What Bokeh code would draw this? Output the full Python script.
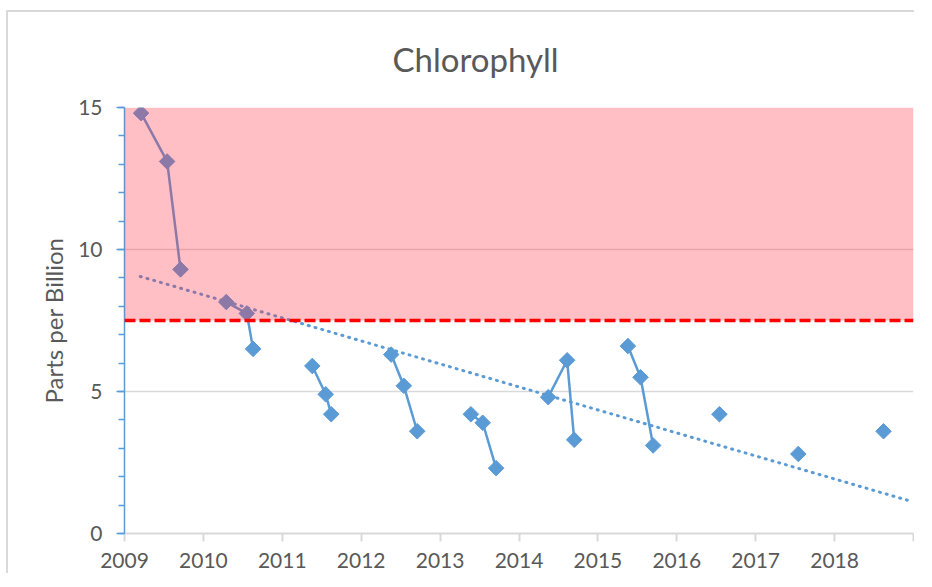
import math
from bokeh.plotting import figure
from bokeh.models import (Range1d, FixedTicker, SingleIntervalTicker, BoxAnnotation, Span)
from bokeh.embed import file_html
from bokeh.resources import INLINE

# ---- data (decimal year, parts per billion) ----
dates = [2009.21, 2009.54, 2009.71,
         2010.29, 2010.55, 2010.63,
         2011.38, 2011.55, 2011.62,
         2012.38, 2012.54, 2012.71,
         2013.39, 2013.54, 2013.71,
         2014.37, 2014.61, 2014.70,
         2015.38, 2015.54, 2015.70,
         2016.54,
         2017.54,
         2018.62]
values = [14.8, 13.1, 9.3,
          8.15, 7.75, 6.5,
          5.9, 4.9, 4.2,
          6.3, 5.2, 3.6,
          4.2, 3.9, 2.3,
          4.8, 6.1, 3.3,
          6.6, 5.5, 3.1,
          4.2,
          2.8,
          3.6]
trend_x = [2009.2, 2018.95]
trend_y = [9.05, 1.15]
threshold = 7.5
year_ticks = [2009, 2010, 2011, 2012, 2013, 2014, 2015, 2016, 2017, 2018, 2019]
year_labels = ["2009", "2010", "2011", "2012", "2013", "2014", "2015", "2016", "2017", "2018", ""]
chart_title = "Chlorophyll"

BLUE = "#5B9BD5"
GREY = "#D9D9D9"
TEXT = "#595959"
FONT = "Lato"

p = figure(width=908, height=563, output_backend="svg", toolbar_location=None,
           x_range=Range1d(2009, 2019), y_range=Range1d(0, 15),
           min_border_left=116, min_border_right=3, min_border_top=95, min_border_bottom=42,
           title=chart_title)
p.styles = {"margin-left": "6px", "margin-top": "10px",
            "border-left": "2px solid #D9D9D9", "border-top": "2px solid #D9D9D9"}
p.outline_line_color = None
p.background_fill_color = "white"

p.title.align = "left"
p.title.offset = 268
p.title.vertical_align = "top"
p.title.standoff = 53
p.title.text_font = FONT
p.title.text_font_size = "33px"
p.title.text_font_style = "normal"
p.title.text_color = TEXT

# x axis
xa = p.xaxis[0]
xa.ticker = FixedTicker(ticks=year_ticks)
xa.major_label_overrides = {t: l for t, l in zip(year_ticks, year_labels)}
xa.axis_line_color = GREY
xa.axis_line_width = 2
xa.major_tick_line_color = GREY
xa.major_tick_line_width = 2
xa.major_tick_in = 0
xa.major_tick_out = 8
xa.minor_tick_line_color = None
xa.major_label_text_font = FONT
xa.major_label_text_font_size = "21px"
xa.major_label_text_color = TEXT
xa.major_label_standoff = 11

# y axis
ya = p.yaxis[0]
ya.ticker = SingleIntervalTicker(interval=5, num_minor_ticks=5)
ya.axis_line_color = BLUE
ya.axis_line_width = 1.5
ya.major_tick_line_color = BLUE
ya.major_tick_line_width = 1.5
ya.major_tick_in = 0
ya.major_tick_out = 8
ya.minor_tick_line_color = BLUE
ya.minor_tick_line_width = 1.5
ya.minor_tick_in = 0
ya.minor_tick_out = 6
ya.major_label_text_font = FONT
ya.major_label_text_font_size = "21px"
ya.major_label_text_color = TEXT
ya.major_label_standoff = 14
ya.axis_label = "Parts per Billion"
ya.axis_label_text_font = FONT
ya.axis_label_text_font_size = "24px"
ya.axis_label_text_font_style = "normal"
ya.axis_label_text_color = TEXT
ya.axis_label_standoff = 7

p.xgrid.grid_line_color = None
p.ygrid.ticker = SingleIntervalTicker(interval=5)
p.ygrid.grid_line_color = GREY
p.ygrid.grid_line_width = 1.5

# connect points within the same year, break between years
lx, ly = [], []
prev = None
for d, v in zip(dates, values):
    yr = int(d)
    if prev is not None and yr != prev:
        lx.append(math.nan)
        ly.append(math.nan)
    lx.append(d)
    ly.append(v)
    prev = yr

p.line(trend_x, trend_y, line_color=BLUE, line_width=3, line_dash="1 6", line_cap="round")
p.line(lx, ly, line_color=BLUE, line_width=2.5)
p.scatter(dates, values, marker="square", angle=math.pi / 4, size=11,
          fill_color=BLUE, line_color=BLUE)

band = BoxAnnotation(bottom=threshold, top=15, left=2009, right=2019,
                     fill_color="#FF2A3E", fill_alpha=0.3, line_color=None)
p.add_layout(band)
p.add_layout(Span(location=threshold, dimension="width", line_color="#FF0000",
                  line_width=3.5, line_dash="11 4"))

open("out.html", "w").write(file_html(p, INLINE))
